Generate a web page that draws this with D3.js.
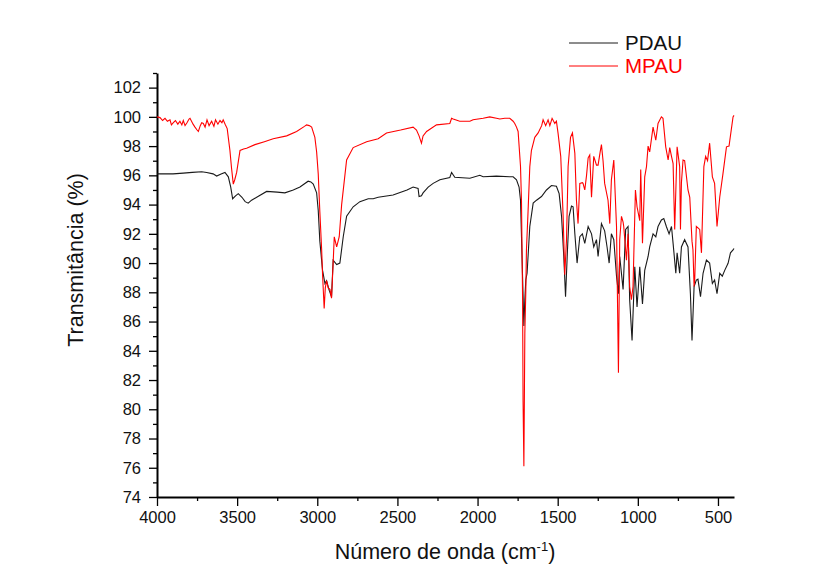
<!DOCTYPE html>
<html>
<head>
<meta charset="utf-8">
<script src="https://cdn.jsdelivr.net/npm/d3@7"></script>
<style>
  body { margin: 0; background: #fff; }
  svg { display: block; font-family: "Liberation Sans", Arial, sans-serif; }
</style>
</head>
<body>
<script>
// series names and colours
const seriesNames = ["PDAU", "MPAU"];
const seriesColors = ["#1a1a1a", "#ff0000"];

// PDAU spectrum: wavenumber (cm-1) and transmittance (%)
const pdauWn = [4000, 3950, 3900, 3836, 3780, 3721, 3690, 3650, 3628, 3600, 3576, 3555, 3540, 3528, 3510, 3493, 3470, 3450, 3431, 3410,
  3378, 3316, 3250, 3202, 3150, 3108, 3057, 3040, 3025, 3004, 2994, 2984, 2973, 2967, 2952, 2942, 2926, 2911, 2901, 2879,
  2859, 2838, 2817, 2776, 2734, 2682, 2651, 2620, 2527, 2440, 2402, 2371, 2365, 2350, 2340, 2308, 2277, 2235, 2173, 2162,
  2142, 2048, 1986, 1965, 1882, 1800, 1778, 1757, 1741, 1732, 1719, 1711, 1705, 1699, 1691, 1674, 1653, 1632, 1601, 1570,
  1539, 1508, 1491, 1476, 1462, 1451, 1439, 1429, 1414, 1404, 1393, 1379, 1362, 1346, 1331, 1310, 1289, 1275, 1258, 1248,
  1227, 1207, 1192, 1179, 1165, 1150, 1133, 1121, 1113, 1092, 1076, 1061, 1051, 1036, 1019, 1005, 988, 971, 957, 936,
  926, 905, 888, 874, 853, 838, 822, 805, 790, 780, 763, 755, 739, 728, 708, 687, 672, 662, 649, 635,
  625, 609, 593, 572, 552, 535, 521, 506, 489, 473, 458, 437, 422, 406, 400];
const pdauT = [96.1, 96.1, 96.1, 96.15, 96.2, 96.25, 96.2, 96.1, 95.95, 96.1, 96.2, 95.9, 95.2, 94.4, 94.6, 94.75, 94.5, 94.2, 94.1, 94.3,
  94.5, 94.9, 94.85, 94.8, 95.0, 95.2, 95.6, 95.55, 95.4, 94.8, 93.6, 91.5, 90.2, 89.5, 88.6, 88.8, 88.15, 87.7, 90.2, 89.9,
  90.0, 91.8, 93.2, 93.85, 94.2, 94.4, 94.4, 94.5, 94.65, 95.0, 95.2, 95.1, 94.55, 94.6, 94.8, 95.2, 95.45, 95.7, 95.85, 96.2,
  95.87, 95.8, 96.0, 95.9, 95.95, 95.9, 95.9, 95.7, 95.2, 94.3, 89.0, 85.7, 87.5, 88.85, 89.3, 92.5, 94.1, 94.3, 94.55, 95.0,
  95.3, 95.25, 94.75, 93.2, 90.45, 87.7, 90.9, 93.2, 93.9, 93.85, 92.0, 90.0, 91.8, 92.0, 91.35, 92.5, 92.0, 91.1, 91.6, 90.45,
  92.7, 92.2, 91.1, 90.0, 92.0, 91.6, 89.1, 87.9, 90.45, 88.2, 92.3, 92.5, 87.5, 84.7, 89.75, 87.0, 89.75, 87.2, 89.5, 90.45,
  91.1, 92.0, 91.8, 92.5, 92.95, 93.05, 92.5, 92.0, 92.5, 91.35, 89.3, 90.7, 89.3, 91.1, 91.6, 91.1, 87.9, 84.7, 88.4, 88.84,
  88.9, 87.7, 89.3, 90.2, 90.0, 88.6, 88.84, 87.9, 89.3, 89.1, 89.5, 89.98, 90.7, 90.9, 91.0];

// MPAU spectrum: wavenumber (cm-1) and transmittance (%)
const mpauWn = [4000, 3981, 3965, 3950, 3935, 3919, 3910, 3898, 3885, 3870, 3857, 3845, 3836, 3825, 3813, 3800, 3794, 3775, 3763, 3750,
  3742, 3730, 3721, 3711, 3700, 3688, 3675, 3659, 3645, 3635, 3620, 3607, 3595, 3587, 3575, 3562, 3545, 3535, 3524, 3515,
  3503, 3482, 3460, 3441, 3389, 3330, 3275, 3191, 3129, 3080, 3067, 3050, 3035, 3015, 3004, 2994, 2984, 2973, 2967, 2957,
  2950, 2942, 2932, 2921, 2911, 2901, 2894, 2879, 2863, 2848, 2817, 2776, 2692, 2620, 2568, 2480, 2402, 2381, 2365, 2350,
  2340, 2318, 2256, 2173, 2162, 2152, 2111, 2048, 2028, 1965, 1924, 1882, 1861, 1830, 1799, 1778, 1768, 1757, 1747, 1732,
  1726, 1719, 1716, 1711, 1705, 1699, 1695, 1685, 1674, 1664, 1643, 1622, 1600, 1591, 1575, 1560, 1549, 1535, 1518, 1508,
  1498, 1481, 1466, 1456, 1445, 1435, 1420, 1408, 1393, 1383, 1373, 1362, 1346, 1342, 1331, 1320, 1310, 1300, 1289, 1275,
  1258, 1248, 1235, 1227, 1217, 1207, 1186, 1175, 1165, 1150, 1133, 1121, 1113, 1102, 1092, 1088, 1071, 1061, 1051, 1040,
  1030, 1015, 1005, 988, 982, 971, 957, 946, 936, 926, 905, 888, 874, 853, 843, 826, 811, 801, 790, 780,
  770, 755, 739, 734, 728, 718, 708, 687, 676, 662, 656, 649, 645, 635, 614, 603, 588, 577, 565, 552,
  535, 521, 506, 489, 469, 447, 431, 406, 400];
const mpauT = [100.0, 99.95, 99.75, 99.9, 99.7, 99.8, 99.45, 99.6, 99.75, 99.5, 99.7, 99.45, 99.75, 99.4, 99.6, 99.85, 99.9, 99.5, 99.3, 99.1,
  99.0, 99.4, 99.6, 99.55, 99.3, 99.8, 99.4, 99.7, 99.35, 99.8, 99.5, 99.75, 99.6, 99.8, 99.5, 99.2, 97.7, 96.5, 95.4, 95.7,
  96.2, 97.7, 97.8, 97.85, 98.1, 98.3, 98.5, 98.7, 99.0, 99.35, 99.45, 99.4, 99.3, 98.6, 97.6, 96.1, 93.5, 91.0, 89.2, 86.9,
  88.3, 88.8, 88.3, 88.2, 87.6, 90.0, 91.8, 91.1, 91.8, 94.0, 97.05, 97.9, 98.3, 98.5, 98.9, 99.1, 99.3, 99.1, 98.7, 98.2,
  98.7, 99.0, 99.45, 99.55, 99.9, 99.85, 99.7, 99.7, 99.8, 99.9, 100.0, 99.9, 99.85, 99.9, 99.9, 99.7, 99.55, 99.3, 99.0, 96.6,
  94.3, 87.5, 80.5, 76.1, 85.2, 88.0, 90.9, 93.5, 96.6, 97.7, 98.6, 98.9, 99.4, 99.8, 99.4, 99.8, 99.4, 99.9, 99.55, 99.7,
  98.9, 97.3, 93.2, 89.2, 91.6, 96.6, 98.6, 98.9, 97.5, 94.3, 92.7, 95.45, 95.5, 95.45, 95.0, 96.0, 97.2, 97.4, 94.5, 97.3,
  96.7, 96.7, 97.6, 98.1, 97.0, 95.45, 94.3, 92.7, 95.7, 97.05, 92.5, 82.5, 91.6, 93.2, 92.8, 92.5, 90.2, 92.0, 88.4, 87.5,
  88.4, 95.0, 93.85, 92.9, 96.4, 91.35, 95.9, 96.6, 98.0, 97.6, 99.3, 98.4, 99.55, 100.0, 99.9, 97.95, 97.05, 97.9, 97.3, 96.8,
  92.3, 97.95, 96.6, 92.3, 95.5, 97.05, 97.0, 95.0, 94.5, 91.5, 90.9, 88.4, 88.9, 92.5, 92.3, 90.7, 96.6, 97.3, 97.0, 98.2,
  95.9, 95.45, 92.5, 94.5, 96.1, 97.95, 98.0, 100.0, 100.1];

// axis ticks
const xTicks = [4000, 3500, 3000, 2500, 2000, 1500, 1000, 500];
const yTicks = [74, 76, 78, 80, 82, 84, 86, 88, 90, 92, 94, 96, 98, 100, 102];

const width = 835;
const height = 586;
const margin = {left: 157, right: 734, top: 73, bottom: 497};

const svg = d3.select("body").append("svg")
  .attr("width", width)
  .attr("height", height);

const x = d3.scaleLinear().domain([4000, 400]).range([margin.left, margin.right]);
const y = d3.scaleLinear().domain([74, 103]).range([margin.bottom, margin.top]);

// minor ticks first, then major ticks with labels
const xMinor = d3.range(3750, 400, -500);
const yMinor = d3.range(75, 104, 2);

svg.append("g")
  .attr("transform", "translate(0," + margin.bottom + ")")
  .call(d3.axisBottom(x).tickValues(xMinor).tickSize(4).tickFormat(""))
  .call(g => g.select(".domain").remove())
  .selectAll("line").attr("stroke-width", 1.3);

svg.append("g")
  .attr("transform", "translate(" + margin.left + ",0)")
  .call(d3.axisLeft(y).tickValues(yMinor).tickSize(4).tickFormat(""))
  .call(g => g.select(".domain").remove())
  .selectAll("line").attr("stroke-width", 1.3);

const xAxis = svg.append("g")
  .attr("transform", "translate(0," + margin.bottom + ")")
  .call(d3.axisBottom(x).tickValues(xTicks).tickSize(9).tickSizeOuter(0).tickPadding(5).tickFormat(d3.format("d")));

const yAxis = svg.append("g")
  .attr("transform", "translate(" + margin.left + ",0)")
  .call(d3.axisLeft(y).tickValues(yTicks).tickSize(8).tickSizeOuter(0).tickPadding(8).tickFormat(d3.format("d")));

[xAxis, yAxis].forEach(function(a) {
  a.select(".domain").attr("stroke-width", 2);
  a.selectAll(".tick line").attr("stroke-width", 1.3);
  a.selectAll(".tick text")
    .style("font-family", '"Liberation Sans", Arial, sans-serif')
    .style("font-size", "16.5px")
    .attr("fill", "#111");
});

// spectra
const line = d3.line()
  .x(d => x(d[0]))
  .y(d => y(d[1]));

const pdau = pdauWn.map((w, i) => [w, pdauT[i]]);
const mpau = mpauWn.map((w, i) => [w, mpauT[i]]);

svg.append("path")
  .datum(pdau)
  .attr("fill", "none")
  .attr("stroke", seriesColors[0])
  .attr("stroke-width", 1.1)
  .attr("d", line);

svg.append("path")
  .datum(mpau)
  .attr("fill", "none")
  .attr("stroke", seriesColors[1])
  .attr("stroke-width", 1.1)
  .attr("d", line);

// axis titles
const xTitle = svg.append("text")
  .attr("x", 445)
  .attr("y", 559)
  .attr("text-anchor", "middle")
  .style("font-size", "21.5px")
  .attr("fill", "#111");
xTitle.append("tspan").text("Número de onda (cm");
xTitle.append("tspan").attr("dy", -8).style("font-size", "13px").text("-1");
xTitle.append("tspan").attr("dy", 8).text(")");

svg.append("text")
  .attr("transform", "translate(83,260) rotate(-90)")
  .attr("text-anchor", "middle")
  .style("font-size", "21.5px")
  .attr("fill", "#111")
  .text("Transmitância (%)");

// legend
const legend = svg.append("g");
seriesNames.forEach(function(name, i) {
  const ly = 43 + i * 23;
  legend.append("line")
    .attr("x1", 569).attr("x2", 618)
    .attr("y1", ly).attr("y2", ly)
    .attr("stroke", seriesColors[i])
    .attr("stroke-width", 1);
  legend.append("text")
    .attr("x", 625)
    .attr("y", ly + 7)
    .style("font-size", "20.5px")
    .attr("fill", i === 0 ? "#111" : seriesColors[i])
    .text(name);
});
</script>
</body>
</html>
